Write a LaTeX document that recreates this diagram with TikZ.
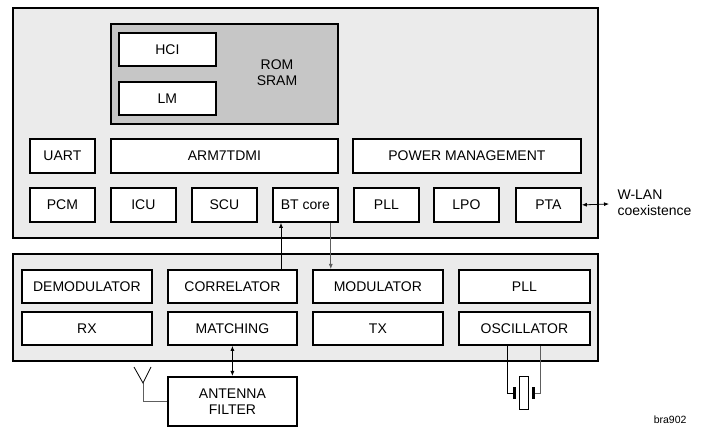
\documentclass[tikz,border=0pt]{standalone}
\usepackage{fontspec}
\setmainfont{Liberation Sans}
\usetikzlibrary{arrows.meta}
\definecolor{outerfill}{HTML}{EBEBEB}
\definecolor{romfill}{HTML}{C6C6C6}
\definecolor{wiregray}{HTML}{5E5E5E}
\tikzset{smalltip/.tip={Latex[length=5pt,width=4pt]}}
\begin{document}
\begin{tikzpicture}[x=1pt,y=-1pt,
  txt/.style={font=\fontsize{14}{16}\selectfont},
  panel/.style={draw, line width=1.8pt, fill=outerfill, anchor=north west, inner sep=0pt},
  box/.style={draw, line width=1.8pt, fill=white, anchor=north west, inner sep=0pt, txt, align=center},
  row/.style={minimum height=34pt},
  conn/.style={line width=0.8pt},
  plate/.style={fill=black, inner sep=0pt, minimum width=3pt, minimum height=12pt}
  ]
\useasboundingbox (0,0) rectangle (704,427);
% top chip
\node[panel, minimum width=585pt, minimum height=230pt] (top) at (12,7) {};
\node[panel, fill=romfill, minimum width=227pt, minimum height=100pt] (rom) at (110,23) {};
\node[box, minimum width=97pt, minimum height=33pt] (hci) at (118,32) {HCI};
\node[box, minimum width=97pt, minimum height=33pt] (lm) at (118,81) {LM};
\node[txt, align=center] (romtxt) at (277,73) {ROM\\SRAM};
\node[box, row, minimum width=65pt] (uart) at (29,138) {UART};
\node[box, row, minimum width=227pt] (arm) at (110,138) {ARM7TDMI};
\node[box, row, minimum width=228pt] (pm) at (352,138) {POWER MANAGEMENT};
\node[box, row, minimum width=65pt] (pcm) at (29,187) {PCM};
\node[box, row, minimum width=65pt] (icu) at (110,187) {ICU};
\node[box, row, minimum width=65pt] (scu) at (191,187) {SCU};
\node[box, row, minimum width=65pt] (bt) at (272,187) {BT core};
\node[box, row, minimum width=65pt] (pll) at (353,187) {PLL};
\node[box, row, minimum width=65pt] (lpo) at (433,187) {LPO};
\node[box, row, minimum width=65pt] (pta) at (515,187) {PTA};
\coordinate (wl) at (609,204);
\draw[conn, smalltip-smalltip] (pta.east) -- (wl);
\node[txt, anchor=west, align=left] (wltxt) at (614,203) {W-LAN\\coexistence};
% radio
\node[panel, minimum width=585pt, minimum height=107pt] (radio) at (12,253) {};
\node[box, minimum width=130pt, minimum height=33pt] (demod) at (21,269) {DEMODULATOR};
\node[box, minimum width=129pt, minimum height=33pt] (corr) at (167,269) {CORRELATOR};
\node[box, minimum width=130pt, minimum height=33pt] (mod) at (312,269) {MODULATOR};
\node[box, minimum width=131pt, minimum height=33pt] (rpll) at (458,269) {PLL};
\node[box, minimum width=130pt, minimum height=33pt] (rx) at (21,311) {RX};
\node[box, minimum width=129pt, minimum height=33pt] (match) at (167,311) {MATCHING};
\node[box, minimum width=130pt, minimum height=33pt] (tx) at (312,311) {TX};
\node[box, minimum width=131pt, minimum height=33pt] (osc) at (458,311) {OSCILLATOR};
% BT core links
\coordinate (btl) at ([xshift=9pt]bt.south west);
\coordinate (btr) at ([xshift=-8pt]bt.south east);
\draw[conn, -smalltip] (btl |- corr.north) -- (btl);
\draw[conn, wiregray, -smalltip] (btr) -- (btr |- mod.north);
% antenna filter
\node[box, minimum width=129pt, minimum height=49pt] (ant) at (167,376) {ANTENNA\\FILTER};
\draw[conn, smalltip-smalltip] (match.south) -- (ant.north);
\coordinate (antbase) at (143,383);
\coordinate (antl) at (134,367);
\coordinate (antr) at (151,367);
\draw[conn, wiregray] (ant.west) -| (antbase);
\draw[conn] (antl) -- (antbase) -- (antr);
% crystal
\node[plate] (pl) at (514.5,393) {};
\node[draw, line width=0.6pt, fill=white, inner sep=0pt, minimum width=9pt, minimum height=33pt] (xtal) at (523.5,392.5) {};
\node[plate] (pr) at (533.5,393) {};
\coordinate (xl) at ([xshift=49pt]osc.south west);
\coordinate (xr) at ([xshift=82pt]osc.south west);
\draw[conn] (xl) |- (pl.west);
\draw[conn, wiregray] (xr) |- (pr.east);
\node[font=\fontsize{10.5}{12}\selectfont, anchor=east] (lbl) at (690,420) {bra902};
\end{tikzpicture}
\end{document}
